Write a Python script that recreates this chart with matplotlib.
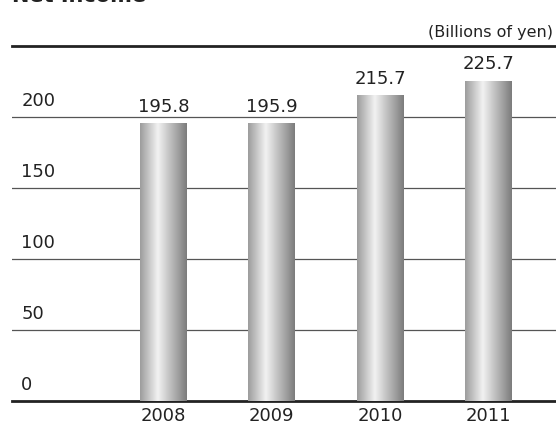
import numpy as np
import matplotlib
matplotlib.use("Agg")
import matplotlib.pyplot as plt
from matplotlib.colors import LinearSegmentedColormap
from matplotlib.patches import Rectangle

years = ["2008", "2009", "2010", "2011"]
net_income = [195.8, 195.9, 215.7, 225.7]
y_ticks = [0, 50, 100, 150, 200]

plt.rcParams["font.family"] = ["DejaVu Sans"]

fig = plt.figure(figsize=(5.56, 4.28), dpi=100)
ax = fig.add_axes([12 / 556, 1 - 401 / 428, 544 / 556, 355 / 428])

x = np.arange(len(years))
width = 0.433
ax.set_xlim(-1.396, 3.62)
ax.set_ylim(0, 250)

# cylinder-like shading for the bars
cyl = LinearSegmentedColormap.from_list(
    "cyl", [(0, "#9c9c9c"), (0.38, "#f2f2f2"), (1, "#7c7c7c")])
grad = np.linspace(0, 1, 256).reshape(1, -1)

for xi, val in zip(x, net_income):
    left = xi - width / 2
    im = ax.imshow(grad, cmap=cyl, aspect="auto", extent=(left, left + width, 0, val),
                   zorder=3, interpolation="bilinear")
    rect = Rectangle((left, 0), width, val, transform=ax.transData, facecolor="none",
                     edgecolor="none")
    ax.add_patch(rect)
    im.set_clip_path(rect)
    ax.text(xi, val + 5, f"{val:.1f}", ha="center", va="bottom", fontsize=13,
            color="#222222")
    ax.text(xi, -4, years[xi], ha="center", va="top", fontsize=13, color="#222222")

for t in y_ticks[1:]:
    ax.axhline(t, color="#555555", linewidth=0.9, zorder=1)
for t in y_ticks:
    ax.text(-1.31, t + 5, str(t), ha="left", va="bottom", fontsize=13, color="#222222")

ax.set_xticks([])
ax.set_yticks([])
for side in ("left", "right"):
    ax.spines[side].set_visible(False)
for side in ("top", "bottom"):
    ax.spines[side].set_linewidth(2)
    ax.spines[side].set_color("#222222")

fig.text(553 / 556, 1 - 32 / 428, "(Billions of yen)", ha="right", va="center",
         fontsize=11.5, color="#222222")
fig.text(12 / 556, 1 - 6 / 428, "Net Income", ha="left", va="bottom",
         fontsize=15, fontweight="bold", color="#222222")

fig.savefig("out.png", dpi=100)
